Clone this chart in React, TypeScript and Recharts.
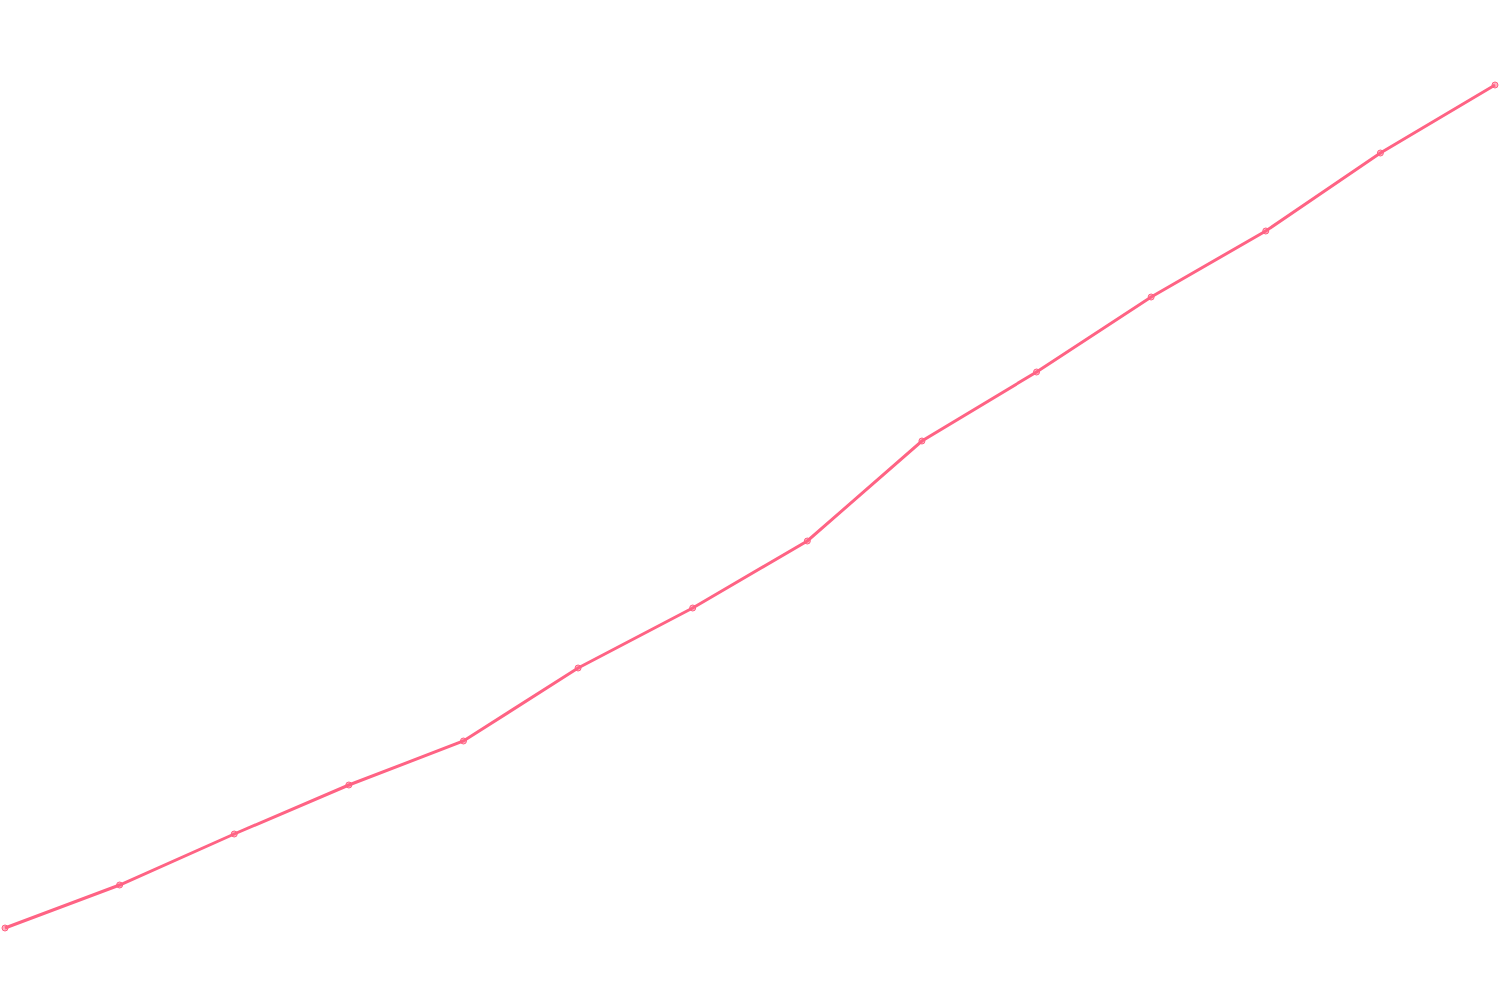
import { LineChart, Line, XAxis, YAxis } from 'recharts';

const labels = ['1', '2', '3', '4', '5', '6', '7', '8', '9', '10', '11', '12', '13', '14'];
const values = [72, 115, 166, 215, 259, 332, 392, 459, 559, 628, 703, 769, 847, 915];

const data = labels.map((label, i) => ({ label, value: values[i] }));

export default function App() {
    return (
        <div style={{ position: 'absolute', left: 0, top: 0, width: 1500, height: 1000, background: '#fff' }}>
            <LineChart width={1500} height={1000} data={data} margin={{ top: 0, right: 5, bottom: 0, left: 5 }}>
                <XAxis dataKey="label" hide />
                <YAxis hide domain={[0, 1000]} />
                <Line
                    type="linear"
                    dataKey="value"
                    stroke="#ff6384"
                    strokeWidth={3}
                    dot={{ r: 3, fill: 'rgba(255,99,132,0.5)', stroke: '#ff6384', strokeWidth: 1 }}
                    activeDot={false}
                    isAnimationActive={false}
                />
            </LineChart>
        </div>
    );
}
